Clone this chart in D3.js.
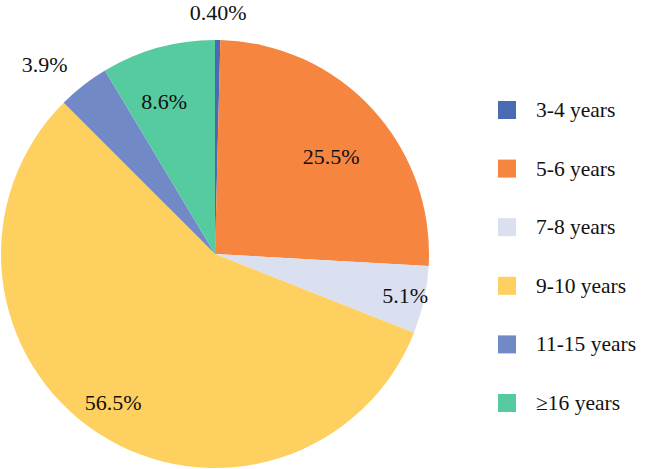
<!DOCTYPE html>
<html>
<head>
<meta charset="utf-8">
<script src="https://cdn.jsdelivr.net/npm/d3@7"></script>
<style>
  body { margin: 0; background: #fff; }
</style>
</head>
<body>
<svg id="chart"></svg>
<script>
const categories = ['3-4 years', '5-6 years', '7-8 years', '9-10 years', '11-15 years', '\u226516 years'];
const shares = [0.40, 25.5, 5.1, 56.5, 3.9, 8.6];
const labels = ['0.40%', '25.5%', '5.1%', '56.5%', '3.9%', '8.6%'];

const width = 646, height = 469;
const cx = 215, cy = 254, radius = 214;
const colors = ['#4a6ab3', '#f5853f', '#dbe0f0', '#fdd05f', '#7189c6', '#56cba0'];
const font = "'Liberation Serif', 'Times New Roman', serif";
// label distance from centre, as a fraction of the radius
const labelPos = [1.13, 0.71, 0.91, 0.84, 1.19, 0.75];
const labelShift = [0, 2.5, 0, 1.2, -4, -3]; // degrees

const svg = d3.select('#chart').attr('width', width).attr('height', height);

const pie = d3.pie().sort(null).value(d => d);
const arcs = pie(shares);
const arc = d3.arc().innerRadius(0).outerRadius(radius);

const g = svg.append('g').attr('transform', `translate(${cx},${cy})`);

g.selectAll('path')
    .data(arcs)
    .enter()
    .append('path')
    .attr('d', arc)
    .attr('fill', (d, i) => colors[i]);

g.selectAll('text.label')
    .data(arcs)
    .enter()
    .append('text')
    .attr('class', 'label')
    .attr('text-anchor', 'middle')
    .attr('dominant-baseline', 'central')
    .attr('font-family', font)
    .attr('font-size', 22)
    .attr('fill', '#111')
    .attr('x', (d, i) => {
        const a = (d.startAngle + d.endAngle) / 2 + labelShift[i] * Math.PI / 180;
        return Math.sin(a) * radius * labelPos[i];
    })
    .attr('y', (d, i) => {
        const a = (d.startAngle + d.endAngle) / 2 + labelShift[i] * Math.PI / 180;
        return -Math.cos(a) * radius * labelPos[i];
    })
    .text((d, i) => labels[i]);

// Legend
const legendY = d3.scalePoint().domain(categories).range([110, 403]);
const legend = svg.append('g');
const rows = legend.selectAll('g')
    .data(categories)
    .enter()
    .append('g')
    .attr('transform', c => `translate(498,${legendY(c)})`);

rows.append('rect')
    .attr('x', 0)
    .attr('y', -9)
    .attr('width', 18)
    .attr('height', 18)
    .attr('fill', (c, i) => colors[i]);

rows.append('text')
    .attr('x', 38)
    .attr('y', 0)
    .attr('dominant-baseline', 'central')
    .attr('font-family', font)
    .attr('font-size', 21.5)
    .attr('fill', '#111')
    .text(c => c);
</script>
</body>
</html>
